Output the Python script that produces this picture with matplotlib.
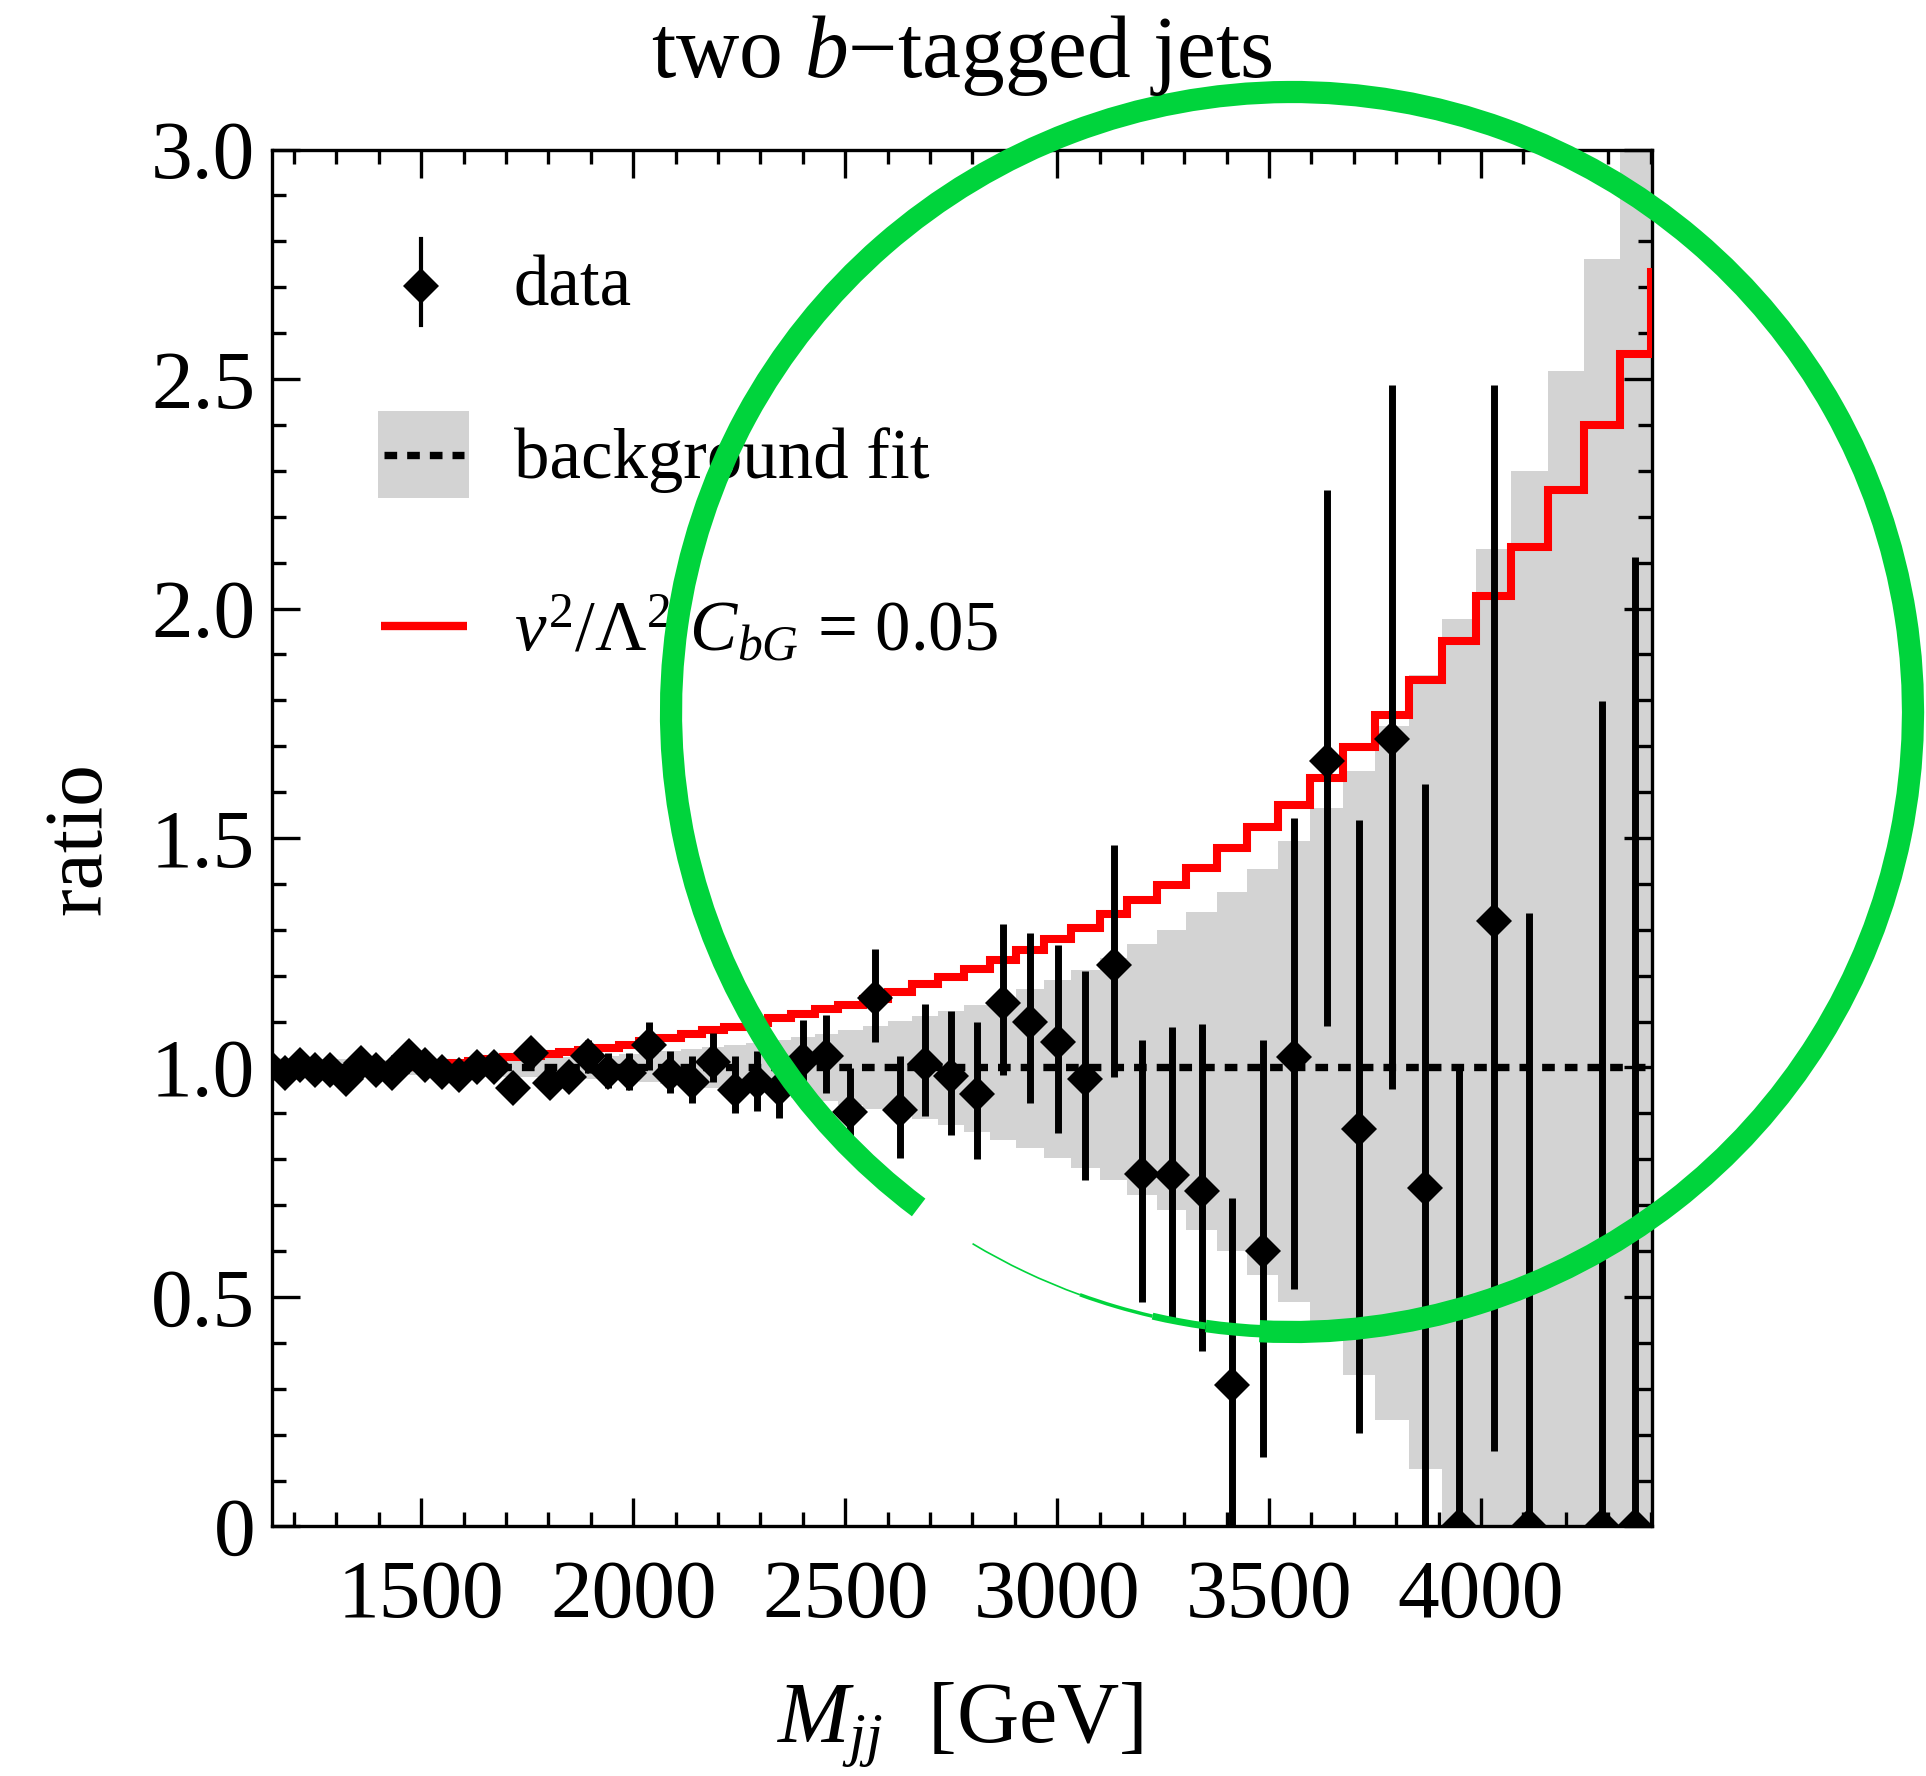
import matplotlib
matplotlib.use("Agg")
import matplotlib.pyplot as plt
import numpy as np
from matplotlib.patches import Arc, Rectangle
from matplotlib.ticker import MultipleLocator, FuncFormatter

plt.rcParams["font.family"] = ["Liberation Serif", "DejaVu Serif"]
plt.rcParams["mathtext.fontset"] = "custom"
plt.rcParams["mathtext.rm"] = "Liberation Serif"
plt.rcParams["mathtext.it"] = "Liberation Serif:italic"
plt.rcParams["mathtext.bf"] = "Liberation Serif:bold"

RED = "#ff0000"
GREY = "#d3d3d3"
GREEN = "#00d43c"

# M_jj bin edges [GeV]; the last bin sits just right of the frame
bin_edges = [1126, 1162, 1197, 1232, 1267, 1303, 1340, 1376, 1413, 1451,
             1490, 1530, 1570, 1610, 1651, 1694, 1738, 1782, 1826, 1870,
             1917, 1966, 2014, 2063, 2113, 2163, 2215, 2267, 2318, 2372,
             2428, 2484, 2541, 2600, 2658, 2718, 2780, 2841, 2904, 2969,
             3033, 3100, 3166, 3235, 3305, 3377, 3449, 3522, 3597, 3674,
             3750, 3829, 3908, 3989, 4071, 4157, 4242, 4327, 4400, 4490]

# data / background-fit ratio (one entry per bin, nan = no point)
data_ratio = [1.000, 0.987, 1.005, 0.994, 0.994, 0.976, 1.009, 0.994, 0.987, 1.024,
              1.005, 0.991, 0.984, 1.002, 1.002, 0.955, 1.031, 0.966, 0.980, 1.024,
              0.991, 0.989, 1.049, 0.986, 0.969, 1.013, 0.952, 0.969, 0.954, 1.017,
              1.026, 0.903, 1.151, 0.907, 1.007, 0.982, 0.942, 1.140, 1.100, 1.056,
              0.976, 1.224, 0.768, 0.766, 0.732, 0.308, 0.600, 1.022, 1.667, 0.866,
              1.716, 0.738, 0.000, 1.319, 0.000, np.nan, 0.000, 0.000]
data_err_lo = [0.012, 0.012, 0.012, 0.013, 0.013, 0.014, 0.014, 0.015, 0.016, 0.022,
               0.018, 0.019, 0.020, 0.021, 0.022, 0.024, 0.030, 0.028, 0.030, 0.036,
               0.036, 0.038, 0.055, 0.042, 0.047, 0.045, 0.051, 0.063, 0.064, 0.070,
               0.082, 0.080, 0.095, 0.105, 0.112, 0.129, 0.142, 0.156, 0.177, 0.198,
               0.221, 0.245, 0.279, 0.311, 0.350, 0.308, 0.449, 0.505, 0.577, 0.663,
               0.763, 0.738, 0.000, 1.155, 0.000, np.nan, 0.000, 0.000]
data_err_hi = [0.012, 0.012, 0.012, 0.013, 0.013, 0.014, 0.014, 0.015, 0.016, 0.022,
               0.018, 0.019, 0.020, 0.021, 0.022, 0.024, 0.030, 0.028, 0.030, 0.036,
               0.040, 0.043, 0.050, 0.050, 0.055, 0.063, 0.072, 0.066, 0.081, 0.087,
               0.089, 0.095, 0.107, 0.117, 0.132, 0.142, 0.157, 0.173, 0.192, 0.210,
               0.235, 0.261, 0.291, 0.323, 0.363, 0.408, 0.460, 0.521, 0.592, 0.674,
               0.770, 0.879, 1.000, 1.167, 1.336, np.nan, 1.798, 2.112]

# signal hypothesis v^2/Lambda^2 C_bG = 0.05 over background
signal_ratio = [0.990, 0.990, 0.990, 0.990, 0.991, 0.992, 0.994, 0.996, 0.998, 1.000,
                1.003, 1.006, 1.010, 1.014, 1.018, 1.022, 1.026, 1.030, 1.034, 1.038,
                1.0425, 1.050, 1.057, 1.065, 1.073, 1.081, 1.089, 1.098, 1.107, 1.117,
                1.127, 1.137, 1.150, 1.165, 1.181, 1.197, 1.215, 1.235, 1.257, 1.281,
                1.305, 1.334, 1.364, 1.398, 1.435, 1.478, 1.525, 1.572, 1.631, 1.699,
                1.767, 1.845, 1.930, 2.028, 2.134, 2.259, 2.399, 2.554, 2.733]

# background fit uncertainty band
fit_lo = [0.978, 0.979, 0.980, 0.981, 0.982, 0.982, 0.983, 0.983, 0.983, 0.983,
          0.983, 0.982, 0.982, 0.981, 0.981, 0.980, 0.979, 0.978, 0.977, 0.976,
          0.974, 0.971, 0.968, 0.964, 0.960, 0.956, 0.951, 0.946, 0.940, 0.933,
          0.926, 0.918, 0.909, 0.899, 0.888, 0.874, 0.860, 0.843, 0.825, 0.803,
          0.780, 0.754, 0.722, 0.689, 0.647, 0.601, 0.548, 0.490, 0.410, 0.331,
          0.233, 0.126, 0.000, 0.000, 0.000, 0.000, 0.000, 0.000, 0.000]
fit_hi = [1.022, 1.021, 1.020, 1.019, 1.018, 1.018, 1.017, 1.017, 1.017, 1.017,
          1.017, 1.018, 1.018, 1.019, 1.019, 1.020, 1.021, 1.022, 1.023, 1.024,
          1.026, 1.029, 1.032, 1.036, 1.040, 1.044, 1.049, 1.054, 1.060, 1.067,
          1.074, 1.082, 1.091, 1.101, 1.112, 1.124, 1.137, 1.152, 1.170, 1.190,
          1.212, 1.238, 1.268, 1.300, 1.338, 1.382, 1.433, 1.493, 1.565, 1.647,
          1.743, 1.855, 1.978, 2.130, 2.300, 2.517, 2.761, 3.100, 3.100]

edges = np.array(bin_edges, dtype=float)
centers = 0.5 * (edges[:-1] + edges[1:])[:len(data_ratio)]

fig = plt.figure(figsize=(19.26, 17.76), dpi=100)
ax = fig.add_axes([0.1412, 0.1405, 0.7165, 0.7753])

MS = 18.5  # diamond size, matches ~26 px across in the reference

ax.stairs(fit_hi, edges, baseline=fit_lo, fill=True, color=GREY, lw=0, zorder=1)
ax.axhline(1.0, color="k", lw=5.3, dashes=(1.72, 1.36), zorder=2)
ax.stairs(signal_ratio, edges, baseline=None, color=RED, lw=5.8, zorder=3)
ax.errorbar(centers, data_ratio, yerr=[data_err_lo, data_err_hi], fmt="D",
            ms=MS, color="k", mew=0, elinewidth=5.0, capsize=0, zorder=4)

ax.set_xlim(1148, 4403)
ax.set_ylim(0, 3)
ax.xaxis.set_major_locator(MultipleLocator(500))
ax.xaxis.set_minor_locator(MultipleLocator(100))
ax.yaxis.set_major_locator(MultipleLocator(0.5))
ax.yaxis.set_minor_locator(MultipleLocator(0.1))
ax.yaxis.set_major_formatter(FuncFormatter(lambda v, p: "0" if abs(v) < 1e-9 else f"{v:.1f}"))
ax.tick_params(which="both", direction="in", top=True, right=True, width=2.4,
               labelsize=60)
ax.tick_params(which="major", length=20)
ax.tick_params(which="minor", length=10)
ax.tick_params(axis="x", pad=24)
ax.tick_params(axis="y", pad=12)
for sp in ax.spines.values():
    sp.set_linewidth(2.4)

# legend, drawn by hand
T = ax.transAxes
ax.plot([0.108, 0.108], [0.8724, 0.935], color="k", lw=3, transform=T, clip_on=False)
ax.plot([0.108], [0.9012], "D", ms=MS, color="k", mew=0, transform=T, clip_on=False)
ax.text(0.1751, 0.887, "data", fontsize=51, transform=T, va="baseline")
ax.add_patch(Rectangle((0.0771, 0.7471), 0.0658, 0.0631, color=GREY, lw=0,
                       transform=T, clip_on=False))
ax.plot([0.0812, 0.139], [0.7785, 0.7785], color="k", lw=5.3, dashes=(1.72, 1.36),
        transform=T, clip_on=False)
ax.text(0.1751, 0.7617, "background fit", fontsize=51, transform=T, va="baseline")
ax.plot([0.079, 0.141], [0.6541, 0.6541], color=RED, lw=6, transform=T,
        solid_capstyle="butt", clip_on=False)
ax.text(0.1751, 0.6358, r"$v^2/\Lambda^2\ C_{bG}$ = 0.05", fontsize=51,
        transform=T, va="baseline")

fig.text(0.4995, 0.9564, "two $b$\u2212tagged jets", fontsize=63, ha="center",
         va="baseline")
fig.text(0.4982, 0.019, r"$M_{jj}$  [GeV]", fontsize=62, ha="center", va="baseline")
fig.text(100 / 1926, 0.528, "ratio", fontsize=60, rotation=90, ha="center",
         va="baseline", rotation_mode="anchor")

# hand-drawn green ring over the high-mass region, thin where the pen trailed off
ring = dict(transform=fig.dpi_scale_trans, edgecolor=GREEN)
cx, cy, w, h = 12.92, 10.64, 12.42, 12.40
fig.add_artist(Arc((cx, cy), w, h, theta1=-93, theta2=233, lw=16, **ring))
for t1, t2, lw in [(239, 250, 1.2), (250, 257, 2.5), (257, 262, 5.0), (262, 267.5, 9.0)]:
    fig.add_artist(Arc((cx, cy), w, h, theta1=t1, theta2=t2, lw=lw, **ring))

fig.savefig("out.png", dpi=100)
